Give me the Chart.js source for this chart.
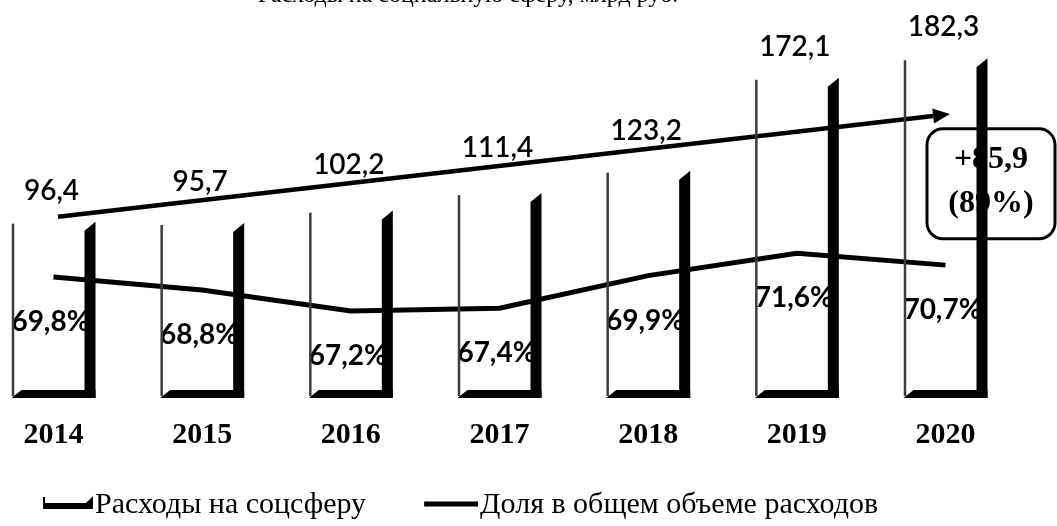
<!DOCTYPE html>
<html>
<head>
<meta charset="utf-8">
<script src="https://cdn.jsdelivr.net/npm/chart.js@4/dist/chart.umd.min.js"></script>
<style>
html,body{margin:0;padding:0;background:#fff;}
#wrap{width:1057px;height:526px;}
</style>
</head>
<body>
<div id="wrap"><canvas id="c" width="1057" height="526"></canvas></div>
<script>
// ---- data ----
const years = ['2014', '2015', '2016', '2017', '2018', '2019', '2020'];
const spending = [96.4, 95.7, 102.2, 111.4, 123.2, 172.1, 182.3];      // млрд руб
const sharePct = [69.8, 68.8, 67.2, 67.4, 69.9, 71.6, 70.7];           // %
const trendArrow = [99, 153];                 // trend arrow, first -> last year (primary axis)
const changeText = ['+85,9', '(89%)'];
const changeBox = [87.4, 145.2];              // box span on primary axis
const legendNames = ['Расходы на соцсферу', 'Доля в общем объеме расходов'];
const titleText = 'Расходы на социальную сферу, млрд руб.';

const fmt = (v, suf) => v.toFixed(1).replace('.', ',') + (suf || '');
const SERIF = '"Liberation Serif", "Times New Roman", serif';
const SANS = 'Lato, "Open Sans", sans-serif';

const decor = {
  id: 'decor',
  beforeDatasetsDraw(chart) {
    const { ctx, scales: { x, y, y2 } } = chart;
    ctx.save();
    // cut-off title
    ctx.fillStyle = '#000';
    ctx.font = '24px ' + SERIF;
    ctx.textAlign = 'center';
    ctx.textBaseline = 'alphabetic';
    ctx.fillText(titleText, 468, 2);

    // trend arrow
    const ax0 = x.getPixelForValue(0) + 4.5, ax1 = x.getPixelForValue(years.length - 1) + 4.5;
    const ay0 = y.getPixelForValue(trendArrow[0]), ay1 = y.getPixelForValue(trendArrow[1]);
    const ang = Math.atan2(ay1 - ay0, ax1 - ax0);
    const hl = 17, hw = 7.5;
    const bx = ax1 - hl * Math.cos(ang), by = ay1 - hl * Math.sin(ang);
    ctx.strokeStyle = '#000';
    ctx.lineWidth = 4.5;
    ctx.beginPath(); ctx.moveTo(ax0, ay0); ctx.lineTo(bx, by); ctx.stroke();
    ctx.beginPath();
    ctx.moveTo(ax1, ay1);
    ctx.lineTo(bx - hw * Math.sin(ang), by + hw * Math.cos(ang));
    ctx.lineTo(bx + hw * Math.sin(ang), by - hw * Math.cos(ang));
    ctx.closePath(); ctx.fill();
    const arrowY = px => ay0 + (ay1 - ay0) * (px - ax0) / (ax1 - ax0);

    // change box
    const lx = x.getPixelForValue(years.length - 1);
    const bl = lx - 18.5, br = 1055, bt = y.getPixelForValue(changeBox[1]), bb = y.getPixelForValue(changeBox[0]);
    ctx.fillStyle = '#fff';
    ctx.lineWidth = 3;
    ctx.beginPath();
    ctx.roundRect(bl, bt, br - bl, bb - bt, 16);
    ctx.fill(); ctx.stroke();
    ctx.fillStyle = '#000';
    ctx.font = 'bold 32px ' + SERIF;
    ctx.textAlign = 'center';
    ctx.textBaseline = 'middle';
    ctx.fillText(changeText[0], (bl + br) / 2, bt + 31);
    ctx.fillText(changeText[1], (bl + br) / 2, bt + 75);

    // value labels above bars
    const barMeta = chart.getDatasetMeta(0);
    ctx.font = '600 28px ' + SANS;
    barMeta.data.forEach((el, i) => {
      const ty = Math.min(el.y - 31, arrowY(el.x) - 18);
      ctx.fillText(fmt(spending[i]), el.x - 2, ty);
    });
    // share labels under the line
    const lineMeta = chart.getDatasetMeta(1);
    ctx.font = 'bold 28px ' + SANS;
    lineMeta.data.forEach((el, i) => {
      ctx.fillText(fmt(sharePct[i], '%'), el.x - 3, el.y + 45);
    });
    ctx.restore();
  },
  afterDatasetsDraw(chart) {
    const { ctx } = chart;
    const meta = chart.getDatasetMeta(0);
    ctx.save();
    meta.data.forEach(el => {
      const { x: cx, y: top, base, width } = el.getProps(['x', 'y', 'base', 'width'], true);
      const L = cx - width / 2, R = cx + width / 2;
      // back-left edge
      ctx.strokeStyle = '#3c3c3c';
      ctx.lineWidth = 2.5;
      ctx.beginPath(); ctx.moveTo(L + 1.5, top + 2); ctx.lineTo(L + 1.5, base - 9); ctx.stroke();
      ctx.fillStyle = '#000';
      // right side wall
      ctx.beginPath();
      ctx.moveTo(R - 11, top + 9); ctx.lineTo(R, top); ctx.lineTo(R, base - 7); ctx.lineTo(R - 11, base - 7);
      ctx.closePath(); ctx.fill();
      // floor
      ctx.beginPath();
      ctx.moveTo(L, base - 7); ctx.lineTo(L + 10, base - 15); ctx.lineTo(R, base - 15); ctx.lineTo(R, base - 7);
      ctx.closePath(); ctx.fill();
    });
    ctx.restore();
  },
  afterDraw(chart) {
    const { ctx } = chart;
    ctx.save();
    ctx.fillStyle = '#000';
    ctx.strokeStyle = '#000';
    const cy = 505;
    // item 1 icon (3D bar floor)
    ctx.lineWidth = 2;
    ctx.beginPath(); ctx.moveTo(44, cy - 8); ctx.lineTo(44, cy + 4); ctx.stroke();
    ctx.beginPath();
    ctx.moveTo(45, cy + 4); ctx.lineTo(45, cy - 2); ctx.lineTo(86, cy - 2); ctx.lineTo(93, cy - 9); ctx.lineTo(93, cy + 4);
    ctx.closePath(); ctx.fill();
    ctx.font = '30px ' + SERIF;
    ctx.textAlign = 'left';
    ctx.textBaseline = 'middle';
    ctx.fillText(legendNames[0], 95, cy);
    const x2 = 95 + ctx.measureText(legendNames[0]).width + 58;
    ctx.lineWidth = 5;
    ctx.beginPath(); ctx.moveTo(x2, cy - 1); ctx.lineTo(x2 + 54, cy - 1); ctx.stroke();
    ctx.fillText(legendNames[1], x2 + 56, cy);
    ctx.restore();
  }
};

new Chart(document.getElementById('c'), {
  type: 'bar',
  data: {
    labels: years,
    datasets: [
      { type: 'bar', label: legendNames[0], data: spending, yAxisID: 'y',
        backgroundColor: 'rgba(0,0,0,0)', borderWidth: 0,
        barPercentage: 0.565, categoryPercentage: 1, clip: false, order: 2 },
      { type: 'line', label: legendNames[1], data: sharePct, yAxisID: 'y2',
        borderColor: '#000', borderWidth: 5, pointRadius: 0, tension: 0,
        fill: false, clip: false, order: 1 }
    ]
  },
  options: {
    responsive: false,
    animation: false,
    devicePixelRatio: 1,
    layout: { padding: { left: 53.5, right: 111.5, top: 24.6, bottom: 61 } },
    plugins: { legend: { display: false }, tooltip: { enabled: false }, title: { display: false } },
    scales: {
      x: {
        offset: false,
        grid: { display: false, drawTicks: false },
        border: { display: false },
        ticks: { color: '#000', padding: 12, maxRotation: 0, autoSkip: false,
                 font: { family: SERIF, size: 30, weight: 'bold' } }
      },
      y: { display: false, min: 0, max: 200 },
      y2: { display: false, min: 60, max: 89.1, position: 'right', grid: { display: false } }
    }
  },
  plugins: [decor]
});
</script>
</body>
</html>
